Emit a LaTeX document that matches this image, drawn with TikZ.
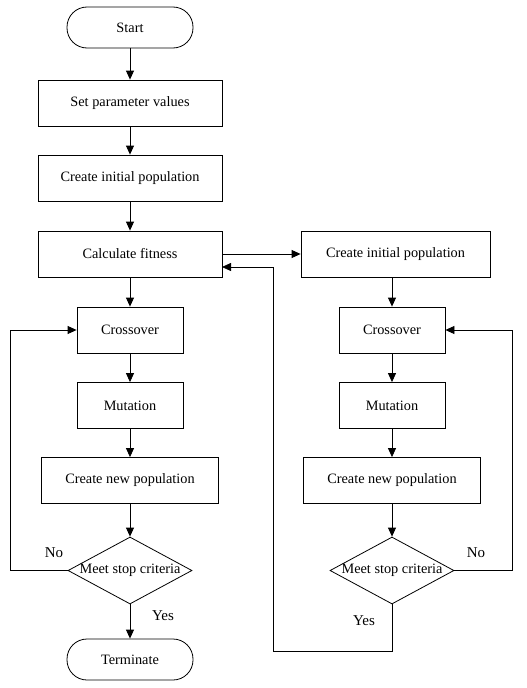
\documentclass[tikz,border=0pt]{standalone}
\usepackage{fontspec}
\setmainfont{Liberation Serif}
\usetikzlibrary{arrows.meta,shapes.geometric}
\begin{document}
\begin{tikzpicture}[x=1pt,y=-1pt,
  every node/.style={font=\fontsize{14.3}{16}\selectfont},
  boxw/.style={draw,line width=0.8pt,rectangle,minimum width=184pt,minimum height=46pt,inner sep=0pt},
  boxn/.style={draw,line width=0.8pt,rectangle,minimum width=106pt,minimum height=46pt,inner sep=0pt},
  term/.style={draw,line width=0.8pt,rectangle,rounded corners=20pt,minimum width=126pt,minimum height=41pt,inner sep=0pt},
  dia/.style={draw,line width=0.8pt,diamond,minimum width=124pt,minimum height=67pt,inner sep=0pt},
  arr/.style={line width=0.8pt,-{Triangle[length=9pt,width=8pt]}},
  lbl/.style={font=\fontsize{15}{17}\selectfont}]
\useasboundingbox (0,0) rectangle (527,688);
\node[term] (start) at (130,27.5) {Start};
\node[boxw] (setp) at (130,103) {Set parameter values};
\node[boxw] (init1) at (130,178) {Create initial population};
\node[boxw] (calc) at (130,254) {Calculate fitness};
\node[boxn] (cross1) at (130,330) {Crossover};
\node[boxn] (mut1) at (130,405.5) {Mutation};
\node[boxw, minimum width=177pt] (new1) at (130,480.5) {Create new population};
\node[dia] (d1) at (130,570.5) {};
\node (d1t) at (d1) {Meet stop criteria};
\node[term] (stop) at (130,659.5) {Terminate};

\node[boxw, minimum width=189pt] (init2) at (395.5,254) {Create initial population};
\node[boxn] (cross2) at (392,330) {Crossover};
\node[boxn] (mut2) at (392,405.5) {Mutation};
\node[boxw, minimum width=177pt] (new2) at (392,480.5) {Create new population};
\node[dia] (d2) at (392,570.5) {};
\node (d2t) at (d2) {Meet stop criteria};

\draw[arr] (start) -- (setp);
\draw[arr] (setp) -- (init1);
\draw[arr] (init1) -- (calc);
\draw[arr] (calc) -- (cross1);
\draw[arr] (cross1) -- (mut1);
\draw[arr] (mut1) -- (new1);
\draw[arr] (new1) -- (d1.north);
\draw[arr] (d1.south) -- (stop);
\coordinate (l1) at (10,570.5);
\draw[arr] (d1.west) -- (l1) |- (cross1.west);

\draw[arr] (calc.east) -- (init2.west);
\draw[arr] (init2.south -| cross2.north) -- (cross2.north);
\draw[arr] (cross2) -- (mut2);
\draw[arr] (mut2) -- (new2);
\draw[arr] (new2) -- (d2.north);
\coordinate (r1) at (512,570.5);
\draw[arr] (d2.east) -- (r1) |- (cross2.east);
\coordinate (b1) at (392,651);
\coordinate (b2) at (273,651);
\coordinate (ce) at (222,267);
\draw[arr] (d2.south) -- (b1) -- (b2) |- (ce);

\node[lbl] at (54,553) {No};
\node[lbl] at (163,616) {Yes};
\node[lbl] at (476,553) {No};
\node[lbl] at (364,621) {Yes};
\end{tikzpicture}
\end{document}
